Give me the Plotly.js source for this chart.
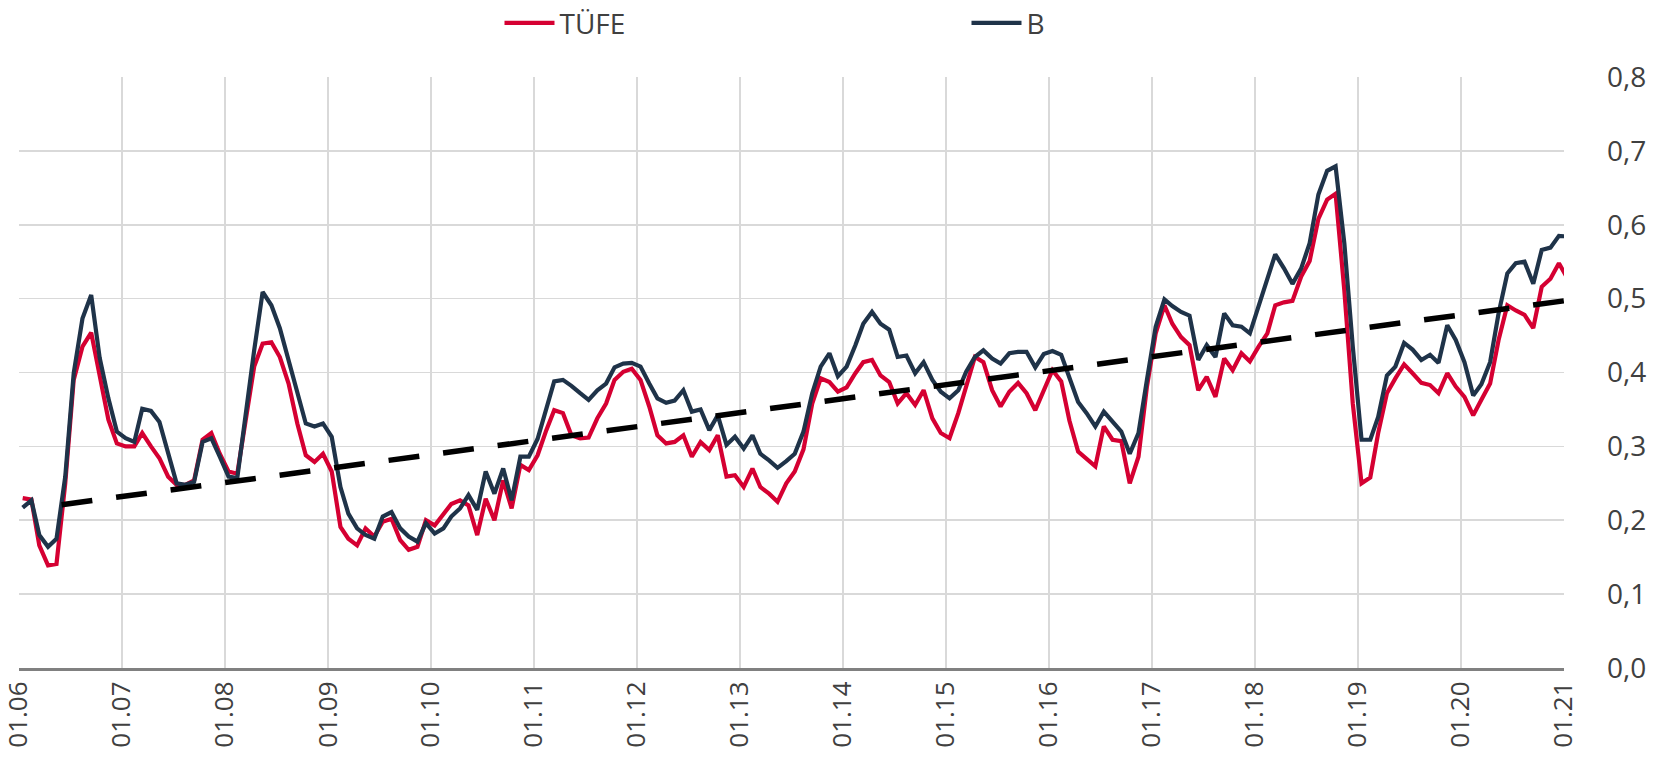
<!DOCTYPE html>
<html>
<head>
<meta charset="utf-8">
<script src="https://cdn.plot.ly/plotly-3.0.1.min.js"></script>
<style>
  html, body { margin: 0; padding: 0; background: #ffffff; }
  #chart { width: 1661px; height: 770px; }
</style>
</head>
<body>
<div id="chart"></div>
<script>
// Monthly series, January 2006 ... January 2021 (181 months)
const startYear = 2006;
const monthCount = 181;

const tufeValues = [
  0.230, 0.228, 0.166, 0.139, 0.141, 0.250, 0.390, 0.435, 0.454, 0.394, 0.336, 0.304,
  0.300, 0.300, 0.318, 0.300, 0.284, 0.259, 0.248, 0.248, 0.254, 0.309, 0.318, 0.290,
  0.266, 0.263, 0.336, 0.408, 0.439, 0.441, 0.421, 0.385, 0.331, 0.288, 0.279, 0.290,
  0.266, 0.191, 0.175, 0.166, 0.189, 0.178, 0.198, 0.202, 0.173, 0.160, 0.164, 0.200,
  0.193, 0.209, 0.222, 0.227, 0.220, 0.180, 0.229, 0.200, 0.254, 0.216, 0.275, 0.268,
  0.288, 0.322, 0.349, 0.345, 0.315, 0.311, 0.312, 0.338, 0.358, 0.390, 0.401, 0.405,
  0.390, 0.354, 0.315, 0.304, 0.306, 0.315, 0.286, 0.306, 0.295, 0.315, 0.259, 0.261,
  0.245, 0.270, 0.245, 0.236, 0.225, 0.250, 0.266, 0.296, 0.358, 0.392, 0.387, 0.374,
  0.380, 0.399, 0.414, 0.417, 0.396, 0.387, 0.358, 0.372, 0.356, 0.376, 0.338, 0.318,
  0.311, 0.345, 0.383, 0.421, 0.414, 0.376, 0.354, 0.374, 0.386, 0.372, 0.349, 0.376,
  0.403, 0.388, 0.335, 0.293, 0.284, 0.273, 0.327, 0.309, 0.307, 0.250, 0.286, 0.381,
  0.453, 0.491, 0.466, 0.448, 0.437, 0.376, 0.394, 0.367, 0.419, 0.403, 0.426, 0.415,
  0.435, 0.453, 0.491, 0.495, 0.497, 0.530, 0.551, 0.608, 0.634, 0.642, 0.511, 0.358,
  0.250, 0.258, 0.318, 0.372, 0.392, 0.411, 0.399, 0.386, 0.383, 0.372, 0.399, 0.381,
  0.367, 0.342, 0.363, 0.385, 0.444, 0.491, 0.484, 0.478, 0.460, 0.516, 0.527, 0.548,
  0.527
];

const bValues = [
  0.217, 0.227, 0.180, 0.164, 0.175, 0.259, 0.399, 0.473, 0.505, 0.420, 0.365, 0.320,
  0.311, 0.306, 0.351, 0.348, 0.333, 0.290, 0.250, 0.248, 0.252, 0.306, 0.311, 0.286,
  0.259, 0.257, 0.345, 0.430, 0.509, 0.491, 0.460, 0.417, 0.374, 0.331, 0.327, 0.331,
  0.313, 0.245, 0.209, 0.189, 0.180, 0.175, 0.205, 0.211, 0.189, 0.178, 0.171, 0.196,
  0.182, 0.189, 0.205, 0.216, 0.234, 0.214, 0.266, 0.236, 0.270, 0.227, 0.286, 0.286,
  0.310, 0.350, 0.388, 0.390, 0.382, 0.372, 0.363, 0.376, 0.385, 0.407, 0.412, 0.413,
  0.408, 0.385, 0.365, 0.359, 0.362, 0.376, 0.347, 0.350, 0.322, 0.342, 0.302, 0.313,
  0.297, 0.315, 0.290, 0.281, 0.271, 0.280, 0.290, 0.320, 0.372, 0.408, 0.426, 0.395,
  0.408, 0.437, 0.466, 0.482, 0.466, 0.458, 0.421, 0.423, 0.399, 0.414, 0.390, 0.374,
  0.365, 0.376, 0.401, 0.421, 0.430, 0.419, 0.412, 0.426, 0.428, 0.428, 0.407, 0.425,
  0.429, 0.424, 0.394, 0.360, 0.345, 0.327, 0.347, 0.333, 0.320, 0.290, 0.318, 0.390,
  0.462, 0.499, 0.490, 0.482, 0.477, 0.417, 0.437, 0.421, 0.480, 0.464, 0.462, 0.453,
  0.491, 0.527, 0.560, 0.541, 0.520, 0.541, 0.575, 0.641, 0.673, 0.679, 0.575, 0.435,
  0.309, 0.309, 0.340, 0.396, 0.408, 0.440, 0.431, 0.417, 0.424, 0.413, 0.464, 0.444,
  0.414, 0.369, 0.384, 0.414, 0.480, 0.534, 0.548, 0.550, 0.520, 0.566, 0.569, 0.585,
  0.584
];

// Linear trend (dashed)
const trendDates = ['2006-06-01', '2021-01-01'];
const trendValues = [0.221, 0.497];

// Axis ticks
const tickDates = ['2006-01-01','2007-01-01','2008-01-01','2009-01-01','2010-01-01','2011-01-01',
  '2012-01-01','2013-01-01','2014-01-01','2015-01-01','2016-01-01','2017-01-01','2018-01-01',
  '2019-01-01','2020-01-01','2021-01-01'];
const tickLabels = ['01.06','01.07','01.08','01.09','01.10','01.11','01.12','01.13','01.14',
  '01.15','01.16','01.17','01.18','01.19','01.20','01.21'];

// Month positions (mid-month observations)
const months = [];
for (let i = 0; i < monthCount; i++) {
  const y = startYear + Math.floor(i / 12);
  const m = (i % 12) + 1;
  months.push(y + '-' + String(m).padStart(2, '0') + '-14');
}

const RED = '#D50032';
const NAVY = '#1F3349';

const traces = [
  { x: months, y: tufeValues, name: 'TÜFE', type: 'scatter', mode: 'lines',
    line: { color: RED, width: 4.2 } },
  { x: months, y: bValues, name: 'B', type: 'scatter', mode: 'lines',
    line: { color: NAVY, width: 4.2 } },
  { x: trendDates, y: trendValues, name: 'trend', type: 'scatter', mode: 'lines',
    showlegend: false, line: { color: '#000000', width: 5.5, dash: '31px,24px' } }
];

const layout = {
  width: 1661, height: 770,
  margin: { l: 19, r: 97, t: 77, b: 102, autoexpand: false },
  separators: ', ',
  paper_bgcolor: '#ffffff', plot_bgcolor: '#ffffff',
  showlegend: true,
  legend: {
    orientation: 'h', x: 0.311, y: 1.091, xanchor: 'left', yanchor: 'middle',
    font: { family: 'Open Sans', size: 28, color: '#404040' },
    itemwidth: 50, entrywidth: 402, entrywidthmode: 'pixels',
    bgcolor: 'rgba(0,0,0,0)'
  },
  xaxis: {
    type: 'date', range: ['2006-01-01', '2021-01-01'],
    tickmode: 'array', tickvals: tickDates, ticktext: tickLabels,
    tickangle: -90, ticks: '', ticklabeloverflow: 'allow',
    tickfont: { family: 'Open Sans', size: 26, color: '#404040' },
    showgrid: true, gridcolor: '#D9D9D9', gridwidth: 1.6,
    showline: true, linecolor: '#808080', linewidth: 3,
    zeroline: false, fixedrange: true, automargin: false
  },
  yaxis: {
    range: [0, 0.8], tick0: 0, dtick: 0.1, tickformat: '.1f',
    side: 'right', ticks: '', ticklabelstandoff: 42,
    tickfont: { family: 'Open Sans', size: 28, color: '#404040' },
    showgrid: true, gridcolor: '#D9D9D9', gridwidth: 1.6,
    zeroline: false, showline: false, fixedrange: true, automargin: false
  }
};

Plotly.newPlot('chart', traces, layout, { displayModeBar: false, staticPlot: true });
</script>
</body>
</html>
